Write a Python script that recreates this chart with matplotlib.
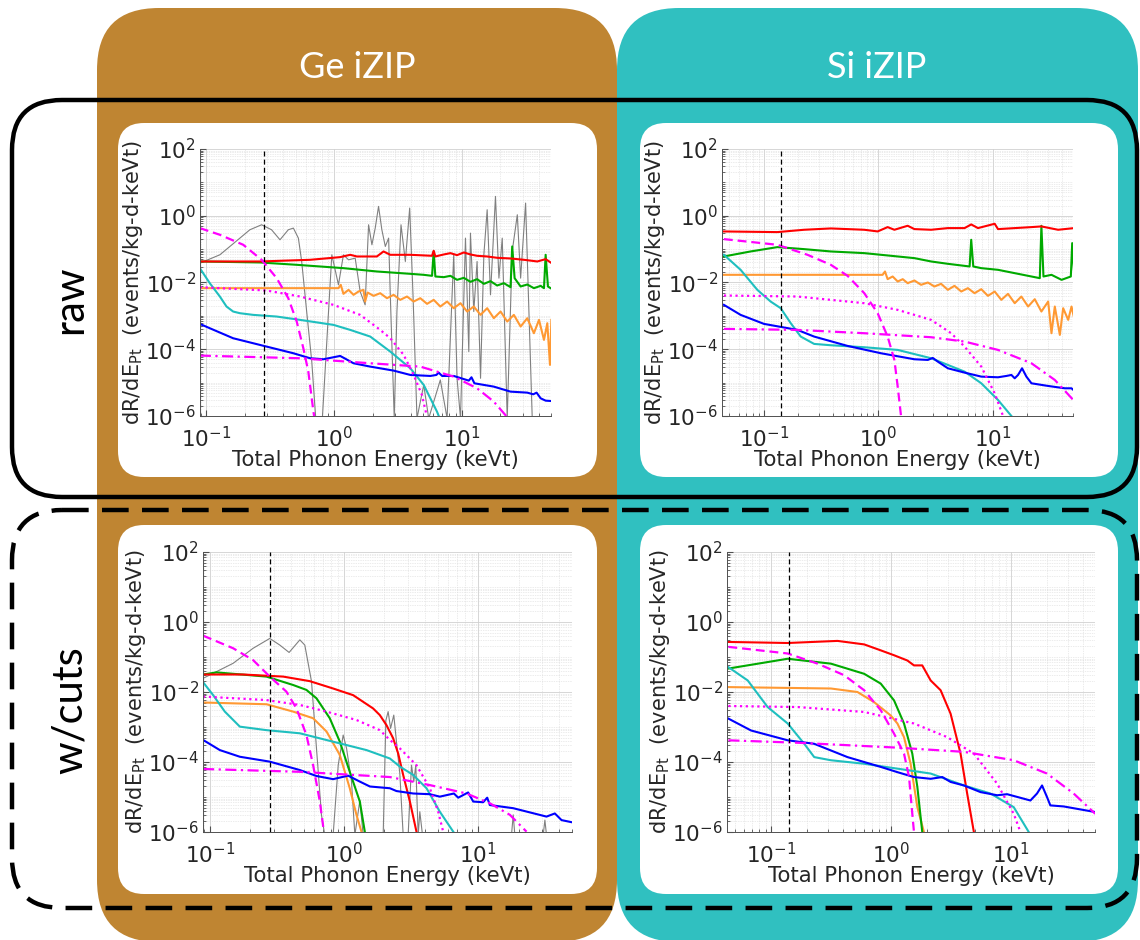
import numpy as np
import matplotlib.pyplot as plt
from matplotlib.patches import FancyBboxPatch
from matplotlib.ticker import LogLocator, FixedLocator, NullFormatter

# values are log10(energy / keVt) and log10(rate / events/kg-d-keVt)

# ---------------- Ge iZIP, raw ----------------
ge_raw_red_lx = [-1.052, -0.581, -0.188, 0.047, 0.126, 0.178, 0.335, 0.387, 0.440, 0.597, 0.767, 0.780, 0.793,
                 0.859, 0.911, 0.963, 1.016, 1.068, 1.120, 1.199, 1.277, 1.382, 1.487, 1.592, 1.657, 1.696]
ge_raw_red_ly = [-1.37, -1.37, -1.32, -1.24, -1.17, -1.22, -1.22, -1.07, -1.17, -1.17, -1.20, -1.05, -1.22,
                 -1.16, -1.12, -1.18, -1.10, -1.16, -1.20, -1.22, -1.26, -1.28, -1.32, -1.37, -1.30, -1.40]
ge_raw_green_lx = [-1.052, -0.581, -0.293, 0.073, 0.335, 0.597, 0.702, 0.767, 0.780, 0.793, 0.859, 0.911, 0.963,
                   1.016, 1.068, 1.120, 1.173, 1.225, 1.277, 1.330, 1.382, 1.395, 1.414, 1.461, 1.513, 1.565,
                   1.618, 1.644, 1.657, 1.675, 1.696]
ge_raw_green_ly = [-1.37, -1.40, -1.47, -1.57, -1.67, -1.74, -1.77, -1.80, -1.07, -1.82, -1.84, -1.80, -1.92,
                   -1.86, -1.98, -1.90, -2.04, -1.96, -2.09, -2.02, -2.14, -0.92, -1.87, -2.12, -2.06, -2.17,
                   -2.10, -2.17, -1.17, -2.12, -2.17]
ge_raw_orange_lx = [-1.052, 0.034, 0.052, 0.073, 0.113, 0.152, 0.191, 0.230, 0.243, 0.262, 0.309, 0.361, 0.414,
                    0.466, 0.518, 0.571, 0.623, 0.675, 0.728, 0.780, 0.832, 0.885, 0.937, 0.990, 1.042, 1.094,
                    1.147, 1.199, 1.251, 1.304, 1.356, 1.408, 1.461, 1.513, 1.565, 1.605, 1.644, 1.670, 1.691, 1.702]
ge_raw_orange_ly = [-2.17, -2.17, -2.07, -2.34, -2.22, -2.37, -2.27, -2.22, -2.57, -2.30, -2.40, -2.32, -2.47,
                    -2.37, -2.52, -2.42, -2.57, -2.47, -2.64, -2.52, -2.72, -2.57, -2.77, -2.62, -2.87, -2.72,
                    -2.97, -2.77, -3.07, -2.87, -3.17, -2.97, -3.32, -3.07, -3.52, -3.12, -3.72, -3.22, -4.47, -3.12]
ge_raw_cyan_lx = [-1.052, -0.974, -0.895, -0.843, -0.791, -0.738, -0.634, -0.450, -0.267, -0.005, 0.126, 0.283,
                  0.440, 0.597, 0.702, 0.806, 0.827]
ge_raw_cyan_ly = [-1.57, -2.02, -2.42, -2.72, -2.87, -2.92, -2.97, -3.02, -3.12, -3.27, -3.42, -3.62,
                  -4.07, -4.57, -5.07, -5.87, -6.07]
ge_raw_blue_lx = [-1.052, -0.974, -0.791, -0.529, -0.319, -0.188, -0.084, -0.005, 0.047, 0.086, 0.152, 0.283,
                  0.466, 0.597, 0.754, 0.801, 0.819, 0.846, 0.937, 1.055, 1.076, 1.099, 1.251, 1.382, 1.513,
                  1.560, 1.586, 1.618, 1.657, 1.696]
ge_raw_blue_ly = [-3.24, -3.37, -3.67, -3.92, -4.12, -4.27, -4.30, -4.24, -4.20, -4.28, -4.42, -4.52,
                  -4.64, -4.77, -4.80, -4.77, -4.70, -4.80, -4.80, -4.94, -4.84, -5.02, -5.12, -5.27, -5.30,
                  -5.35, -5.30, -5.47, -5.54, -5.55]
ge_raw_mdash_lx = [-1.052, -0.895, -0.712, -0.568, -0.450, -0.359, -0.293, -0.241, -0.202, -0.162, -0.154]
ge_raw_mdash_ly = [-0.37, -0.57, -0.87, -1.32, -1.87, -2.47, -3.17, -3.97, -4.67, -5.87, -6.07]
ge_raw_mdot_lx = [-1.052, -0.529, -0.267, -0.005, 0.204, 0.361, 0.440, 0.545, 0.623, 0.688, 0.730]
ge_raw_mdot_ly = [-2.14, -2.24, -2.42, -2.67, -2.97, -3.42, -3.67, -4.17, -4.77, -5.37, -6.07]
ge_raw_mdd_lx = [-1.052, -0.267, 0.283, 0.675, 0.937, 1.120, 1.251, 1.364]
ge_raw_mdd_ly = [-4.19, -4.27, -4.42, -4.52, -4.82, -5.17, -5.57, -6.07]
ge_raw_gray_lx = [-1.052, -0.895, -0.738, -0.660, -0.568, -0.490, -0.424, -0.359, -0.319, -0.280, -0.254, -0.215,
                  -0.175, -0.144, -0.092, -0.018, 0.034, 0.073, 0.113, 0.165, 0.204, 0.243, 0.270, 0.296, 0.322,
                  0.348, 0.374, 0.401, 0.427, 0.440, 0.471, 0.492, 0.524, 0.558, 0.592, 0.618, 0.649, 0.702,
                  0.741, 0.832, 0.885, 0.937, 0.963, 0.990, 1.029, 1.055, 1.068, 1.094, 1.120, 1.147, 1.173,
                  1.199, 1.225, 1.264, 1.291, 1.317, 1.356, 1.395, 1.435, 1.461, 1.500, 1.526, 1.552]
ge_raw_gray_ly = [-1.42, -1.17, -0.67, -0.42, -0.27, -0.42, -0.72, -0.42, -0.37, -0.67, -1.37, -2.87,
                  -4.37, -6.07, -6.07, -1.17, -2.07, -1.17, -1.32, -1.27, -2.27, -2.67, -0.27, -0.87, -0.37,
                  0.28, -0.42, -0.92, -0.67, -2.37, -6.07, -2.87, -0.27, -1.37, 0.23, -2.37, -6.07, -5.07,
                  -6.07, -4.92, -6.07, -1.17, -4.87, -6.07, -0.67, -4.07, -0.52, -2.87, -1.37, -4.87, -1.17,
                  0.18, -2.37, 0.58, -1.87, -0.67, -6.07, -1.07, 0.03, -1.87, 0.38, -2.87, -6.07]

# ---------------- Si iZIP, raw ----------------
si_raw_red_lx = [-1.365, -0.883, -0.650, -0.416, -0.124, -0.007, 0.080, 0.139, 0.255, 0.314, 0.460, 0.606,
                 0.752, 0.810, 0.869, 1.015, 1.044, 1.190, 1.336, 1.423, 1.569, 1.709]
si_raw_red_ly = [-0.47, -0.49, -0.42, -0.38, -0.42, -0.47, -0.34, -0.42, -0.30, -0.40, -0.42, -0.37,
                 -0.37, -0.26, -0.37, -0.24, -0.40, -0.37, -0.34, -0.32, -0.42, -0.37]
si_raw_green_lx = [-1.350, -1.117, -0.883, -0.650, -0.416, -0.124, 0.022, 0.168, 0.314, 0.460, 0.606, 0.796,
                   0.810, 0.828, 0.898, 1.044, 1.190, 1.336, 1.409, 1.423, 1.441, 1.511, 1.599, 1.680, 1.692, 1.709]
si_raw_green_ly = [-1.22, -1.07, -0.94, -1.00, -1.07, -1.12, -1.17, -1.22, -1.27, -1.37, -1.44, -1.52,
                   -0.72, -1.52, -1.57, -1.62, -1.72, -1.82, -1.87, -0.30, -1.82, -1.77, -1.92, -1.82, -0.82, -1.72]
si_raw_orange_lx = [-1.350, 0.036, 0.057, 0.080, 0.124, 0.168, 0.212, 0.255, 0.314, 0.372, 0.431, 0.489,
                    0.547, 0.606, 0.664, 0.723, 0.781, 0.839, 0.898, 0.956, 1.015, 1.073, 1.131, 1.190,
                    1.248, 1.307, 1.365, 1.423, 1.482, 1.511, 1.540, 1.584, 1.613, 1.657, 1.686, 1.709]
si_raw_orange_ly = [-1.77, -1.77, -1.67, -1.90, -1.82, -1.97, -1.90, -2.02, -1.94, -2.07, -2.00, -2.12,
                    -2.04, -2.22, -2.10, -2.27, -2.17, -2.32, -2.20, -2.40, -2.27, -2.52, -2.34, -2.62,
                    -2.42, -2.72, -2.50, -2.87, -2.57, -3.52, -2.72, -3.57, -2.77, -3.12, -2.72, -3.07]
si_raw_cyan_lx = [-1.350, -1.204, -1.058, -0.942, -0.854, -0.766, -0.679, -0.562, -0.416, -0.124, 0.168, 0.460,
                  0.606, 0.752, 0.898, 1.044, 1.161]
si_raw_cyan_ly = [-1.17, -1.62, -2.22, -2.57, -2.77, -3.22, -3.62, -3.84, -3.88, -3.94, -4.02, -4.27,
                  -4.47, -4.67, -5.02, -5.52, -6.00]
si_raw_blue_lx = [-1.350, -1.204, -1.000, -0.708, -0.562, -0.270, 0.022, 0.314, 0.431, 0.474, 0.518, 0.606,
                  0.752, 0.898, 1.044, 1.117, 1.161, 1.190, 1.219, 1.254, 1.292, 1.336, 1.482, 1.628, 1.686, 1.709]
si_raw_blue_ly = [-2.67, -2.97, -3.24, -3.42, -3.62, -3.90, -4.12, -4.30, -4.32, -4.26, -4.37, -4.57,
                  -4.70, -4.82, -4.84, -4.80, -4.77, -4.87, -4.77, -4.57, -4.82, -5.02, -5.10, -5.17, -5.17, -5.24]
si_raw_mdash_lx = [-1.350, -0.883, -0.620, -0.416, -0.270, -0.124, -0.007, 0.080, 0.139, 0.168, 0.197]
si_raw_mdash_ly = [-0.70, -0.87, -1.17, -1.47, -1.80, -2.32, -2.92, -3.62, -4.32, -5.12, -6.00]
si_raw_mdot_lx = [-1.350, -0.708, -0.124, 0.168, 0.460, 0.635, 0.752, 0.898, 1.015, 1.088]
si_raw_mdot_ly = [-2.39, -2.42, -2.62, -2.82, -3.12, -3.52, -3.92, -4.52, -5.32, -6.00]
si_raw_mdd_lx = [-1.350, -0.708, -0.124, 0.460, 0.752, 1.044, 1.336, 1.540, 1.715]
si_raw_mdd_ly = [-3.39, -3.42, -3.52, -3.64, -3.77, -4.02, -4.42, -4.92, -5.57]

# ---------------- Ge iZIP, with cuts ----------------
ge_cut_red_lx = [-1.042, -0.752, -0.453, -0.255, -0.081, 0.068, 0.217, 0.267, 0.317, 0.366, 0.404, 0.441, 0.491, 0.540]
ge_cut_red_ly = [-1.50, -1.50, -1.56, -1.69, -1.90, -2.09, -2.47, -2.66, -2.95, -3.32, -3.76, -4.37, -5.13, -5.99]
ge_cut_green_lx = [-1.050, -0.950, -0.578, -0.379, -0.280, -0.205, -0.106, -0.031, 0.043, 0.118, 0.155]
ge_cut_green_ly = [-1.50, -1.44, -1.56, -1.80, -1.94, -2.18, -2.75, -3.42, -4.28, -5.13, -5.99]
ge_cut_orange_lx = [-1.050, -0.578, -0.379, -0.230, -0.130, -0.031, 0.043, 0.093, 0.130]
ge_cut_orange_ly = [-2.30, -2.35, -2.56, -2.75, -3.13, -3.80, -4.75, -5.51, -5.99]
ge_cut_cyan_lx = [-1.050, -0.975, -0.888, -0.776, -0.578, -0.329, -0.081, 0.168, 0.342, 0.416, 0.516, 0.615, 0.714, 0.814]
ge_cut_cyan_ly = [-1.72, -2.09, -2.56, -2.99, -3.09, -3.18, -3.42, -3.66, -3.90, -4.13, -4.37, -4.75, -5.42, -5.99]
ge_cut_blue_lx = [-1.050, -0.925, -0.776, -0.553, -0.329, -0.205, -0.081, 0.031, 0.118, 0.193, 0.342, 0.391,
                  0.516, 0.640, 0.714, 0.819, 0.851, 0.925, 0.963, 1.037, 1.067, 1.087, 1.261, 1.509, 1.571,
                  1.621, 1.696]
ge_cut_blue_ly = [-3.37, -3.66, -3.85, -3.99, -4.23, -4.40, -4.49, -4.39, -4.56, -4.70, -4.75, -4.83,
                  -4.90, -4.92, -4.99, -4.90, -5.02, -4.87, -5.13, -5.15, -5.02, -5.23, -5.32, -5.56, -5.47,
                  -5.66, -5.72]
ge_cut_mdash_lx = [-1.050, -0.826, -0.677, -0.553, -0.429, -0.354, -0.280, -0.230, -0.180, -0.150]
ge_cut_mdash_ly = [-0.39, -0.75, -1.09, -1.56, -1.99, -2.47, -3.23, -4.09, -5.13, -5.99]
ge_cut_mdot_lx = [-1.050, -0.578, -0.329, -0.130, 0.093, 0.267, 0.342, 0.416, 0.540, 0.640, 0.702, 0.739]
ge_cut_mdot_ly = [-2.13, -2.23, -2.37, -2.56, -2.80, -3.09, -3.37, -3.61, -4.09, -4.75, -5.42, -5.99]
ge_cut_mdd_lx = [-1.050, -0.329, 0.342, 0.640, 0.913, 1.087, 1.236, 1.360]
ge_cut_mdd_ly = [-4.20, -4.28, -4.43, -4.66, -4.90, -5.18, -5.51, -5.99]
ge_cut_gray_lx = [-1.050, -0.826, -0.677, -0.553, -0.478, -0.409, -0.329, -0.292, -0.242, -0.205, -0.168,
                  -0.143, -0.081, -0.043, -0.006, 0.019, 0.056, 0.081, 0.118, 0.143, 0.292, 0.312, 0.329,
                  0.347, 0.371, 0.396, 0.416, 0.441, 0.478, 0.503, 0.520, 0.535, 0.553, 0.565, 0.585,
                  1.248, 1.261, 1.273, 1.484, 1.497, 1.509]
ge_cut_gray_ly = [-1.61, -1.18, -0.75, -0.47, -0.66, -0.87, -0.51, -0.66, -1.70, -3.61, -5.51,
                  -6.09, -6.09, -4.09, -3.23, -3.61, -4.56, -6.09, -5.10, -6.09, -6.09, -2.81, -2.56,
                  -3.04, -2.66, -3.61, -4.33, -6.09, -6.09, -4.09, -4.56, -4.09, -6.09, -5.42, -6.09,
                  -6.09, -5.51, -6.09, -6.09, -5.66, -6.09]

# ---------------- Si iZIP, with cuts ----------------
si_cut_red_lx = [-1.355, -0.861, -0.446, -0.224, -0.086, 0.025, 0.136, 0.191, 0.260, 0.330, 0.413, 0.496, 0.579, 0.634, 0.690]
si_cut_red_ly = [-0.57, -0.60, -0.54, -0.64, -0.81, -0.95, -1.10, -1.24, -1.24, -1.67, -1.95, -2.62, -3.76, -4.90, -6.00]
si_cut_green_lx = [-1.355, -0.861, -0.501, -0.224, -0.086, 0.025, 0.108, 0.177, 0.219, 0.260]
si_cut_green_ly = [-1.33, -1.05, -1.19, -1.48, -1.76, -2.24, -2.90, -3.76, -4.71, -6.00]
si_cut_orange_lx = [-1.355, -0.501, -0.280, -0.141, -0.003, 0.053, 0.108, 0.163, 0.219, 0.274]
si_cut_orange_ly = [-1.86, -1.90, -2.00, -2.29, -2.67, -2.90, -3.29, -4.05, -5.29, -6.00]
si_cut_cyan_lx = [-1.355, -1.194, -1.028, -0.861, -0.723, -0.640, -0.501, -0.224, 0.053, 0.330, 0.607, 0.828, 1.022, 1.147]
si_cut_cyan_ly = [-1.29, -1.67, -2.43, -2.90, -3.48, -3.86, -3.95, -4.05, -4.19, -4.33, -4.67, -4.90, -5.29, -6.00]
si_cut_blue_lx = [-1.355, -1.166, -0.861, -0.640, -0.363, -0.086, 0.053, 0.191, 0.330, 0.427, 0.496, 0.607,
                  0.745, 0.884, 0.967, 1.161, 1.216, 1.258, 1.299, 1.327, 1.438, 1.701]
si_cut_blue_ly = [-2.76, -3.10, -3.38, -3.48, -3.86, -4.14, -4.29, -4.43, -4.48, -4.43, -4.57, -4.67,
                  -4.86, -4.95, -4.92, -5.10, -4.90, -4.67, -5.00, -5.24, -5.27, -5.43]
si_cut_mdash_lx = [-1.355, -0.861, -0.612, -0.391, -0.224, -0.086, 0.025, 0.108, 0.150, 0.177, 0.191]
si_cut_mdash_ly = [-0.71, -0.90, -1.19, -1.52, -1.95, -2.52, -3.19, -3.76, -4.43, -5.48, -6.00]
si_cut_mdot_lx = [-1.355, -0.778, -0.224, 0.191, 0.468, 0.690, 0.884, 1.022, 1.078]
si_cut_mdot_ly = [-2.40, -2.43, -2.57, -2.90, -3.29, -3.76, -4.62, -5.48, -6.00]
si_cut_mdd_lx = [-1.355, -0.778, 0.053, 0.607, 1.022, 1.299, 1.521, 1.701]
si_cut_mdd_ly = [-3.38, -3.45, -3.59, -3.71, -3.95, -4.33, -4.90, -5.48]

ge_threshold = 0.28   # keVt, dashed vertical line
si_threshold = 0.14
ge_xlim = (0.089, 50)
si_xlim = (0.043, 50)
col_titles = ['Ge iZIP', 'Si iZIP']
row_titles = ['raw', 'w/cuts']

RED = dict(color='#ff0000', lw=1.5)
GREEN = dict(color='#00aa00', lw=1.5)
ORANGE = dict(color='#ff9933', lw=1.5)
CYAN = dict(color='#1fbfbf', lw=1.5)
BLUE = dict(color='#0000ff', lw=1.5)
MDASH = dict(color='#ff00ff', lw=1.6, ls=(0, (4, 2.2)))
MDOT = dict(color='#ff00ff', lw=1.6, ls=(0, (1, 1.6)))
MDD = dict(color='#ff00ff', lw=1.6, ls=(0, (5, 2, 1, 2)))
GRAY = dict(color='#808080', lw=0.8)

fig = plt.figure(figsize=(11.4, 9.4), dpi=100)
bg = fig.add_axes([0, 0, 1, 1])
bg.set_xlim(0, 1140)
bg.set_ylim(940, 0)
bg.axis('off')


def rbox(x0, y0, x1, y1, r, **kw):
    p = FancyBboxPatch((x0 + r, y0 + r), x1 - x0 - 2 * r, y1 - y0 - 2 * r,
                       boxstyle=f"round,pad={r}", **kw)
    bg.add_patch(p)


rbox(97, 8, 617, 942, 62, fc='#bf8532', ec='none')
rbox(617, 8, 1138, 942, 62, fc='#30c0c0', ec='none')
rbox(12, 100, 1137, 497, 50, fc='none', ec='black', lw=3.2)
rbox(12, 510, 1137, 908, 50, fc='none', ec='black', lw=3.2, ls=(0, (6, 3)))
for x0, x1 in [(118, 597), (640, 1118)]:
    rbox(x0, 123, x1, 477, 26, fc='white', ec='none')
    rbox(x0, 525, x1, 894, 26, fc='white', ec='none')

bg.text(357, 67, col_titles[0], color='white', fontsize=26, family='Lato', ha='center', va='center')
bg.text(877, 67, col_titles[1], color='white', fontsize=26, family='Lato', ha='center', va='center')
bg.text(70, 300, row_titles[0], color='black', fontsize=30, family='Lato', ha='center', va='center', rotation=90)
bg.text(70, 710, row_titles[1], color='black', fontsize=30, family='Lato', ha='center', va='center', rotation=90)


def panel(px, xlim, curves, thr):
    l, r, t, b = px
    ax = fig.add_axes([l / 1140, 1 - b / 940, (r - l) / 1140, (b - t) / 940])
    ax.set_xscale('log')
    ax.set_yscale('log')
    for lx, ly, st in curves:
        ax.plot(10 ** np.array(lx), 10 ** np.array(ly), **st)
    ax.axvline(thr, color='black', lw=0.9, ls=(0, (4, 2.5)))
    ax.set_xlim(*xlim)
    ax.set_ylim(1e-6, 1e2)
    ax.xaxis.set_major_locator(FixedLocator([0.1, 1, 10]))
    ax.xaxis.set_minor_locator(LogLocator(base=10, subs=np.arange(2, 10), numticks=20))
    ax.yaxis.set_major_locator(FixedLocator([1e-6, 1e-4, 1e-2, 1e0, 1e2]))
    ax.yaxis.set_minor_locator(LogLocator(base=10, subs=np.arange(1, 10), numticks=30))
    ax.xaxis.set_minor_formatter(NullFormatter())
    ax.yaxis.set_minor_formatter(NullFormatter())
    ax.grid(True, which='major', color='#d0d0d0', lw=0.6)
    ax.grid(True, which='minor', color='#d8d8d8', lw=0.5, ls=(0, (1, 1.5)))
    ax.set_axisbelow(True)
    for s in ['top', 'right']:
        ax.spines[s].set_visible(False)
    for s in ['left', 'bottom']:
        ax.spines[s].set_color('#505050')
        ax.spines[s].set_linewidth(0.7)
    ax.tick_params(which='both', direction='in', colors='#505050', labelcolor='#262626', labelsize=15.5)
    ax.tick_params(axis='x', pad=7)
    ax.tick_params(axis='y', pad=3)
    ax.tick_params(which='major', length=4)
    ax.tick_params(which='minor', length=2)
    ax.set_xlabel('Total Phonon Energy (keVt)', fontsize=15.3, color='#262626', labelpad=-1)
    ax.set_ylabel(r'dR/dE$_{\mathrm{Pt}}$  (events/kg-d-keVt)', fontsize=15, color='#262626', labelpad=0)
    return ax


panel((200, 551, 149, 416), ge_xlim, [
    (ge_raw_gray_lx, ge_raw_gray_ly, GRAY),
    (ge_raw_orange_lx, ge_raw_orange_ly, ORANGE),
    (ge_raw_green_lx, ge_raw_green_ly, GREEN),
    (ge_raw_red_lx, ge_raw_red_ly, RED),
    (ge_raw_cyan_lx, ge_raw_cyan_ly, CYAN),
    (ge_raw_blue_lx, ge_raw_blue_ly, BLUE),
    (ge_raw_mdash_lx, ge_raw_mdash_ly, MDASH),
    (ge_raw_mdot_lx, ge_raw_mdot_ly, MDOT),
    (ge_raw_mdd_lx, ge_raw_mdd_ly, MDD),
], ge_threshold)

panel((722, 1073, 149, 416), si_xlim, [
    (si_raw_orange_lx, si_raw_orange_ly, ORANGE),
    (si_raw_green_lx, si_raw_green_ly, GREEN),
    (si_raw_red_lx, si_raw_red_ly, RED),
    (si_raw_cyan_lx, si_raw_cyan_ly, CYAN),
    (si_raw_blue_lx, si_raw_blue_ly, BLUE),
    (si_raw_mdash_lx, si_raw_mdash_ly, MDASH),
    (si_raw_mdot_lx, si_raw_mdot_ly, MDOT),
    (si_raw_mdd_lx, si_raw_mdd_ly, MDD),
], si_threshold)

panel((203, 572, 552, 832), ge_xlim, [
    (ge_cut_gray_lx, ge_cut_gray_ly, GRAY),
    (ge_cut_orange_lx, ge_cut_orange_ly, ORANGE),
    (ge_cut_green_lx, ge_cut_green_ly, GREEN),
    (ge_cut_red_lx, ge_cut_red_ly, RED),
    (ge_cut_cyan_lx, ge_cut_cyan_ly, CYAN),
    (ge_cut_blue_lx, ge_cut_blue_ly, BLUE),
    (ge_cut_mdash_lx, ge_cut_mdash_ly, MDASH),
    (ge_cut_mdot_lx, ge_cut_mdot_ly, MDOT),
    (ge_cut_mdd_lx, ge_cut_mdd_ly, MDD),
], ge_threshold)

panel((727, 1095, 552, 832), si_xlim, [
    (si_cut_orange_lx, si_cut_orange_ly, ORANGE),
    (si_cut_green_lx, si_cut_green_ly, GREEN),
    (si_cut_red_lx, si_cut_red_ly, RED),
    (si_cut_cyan_lx, si_cut_cyan_ly, CYAN),
    (si_cut_blue_lx, si_cut_blue_ly, BLUE),
    (si_cut_mdash_lx, si_cut_mdash_ly, MDASH),
    (si_cut_mdot_lx, si_cut_mdot_ly, MDOT),
    (si_cut_mdd_lx, si_cut_mdd_ly, MDD),
], si_threshold)

fig.savefig('out.png', dpi=100)
